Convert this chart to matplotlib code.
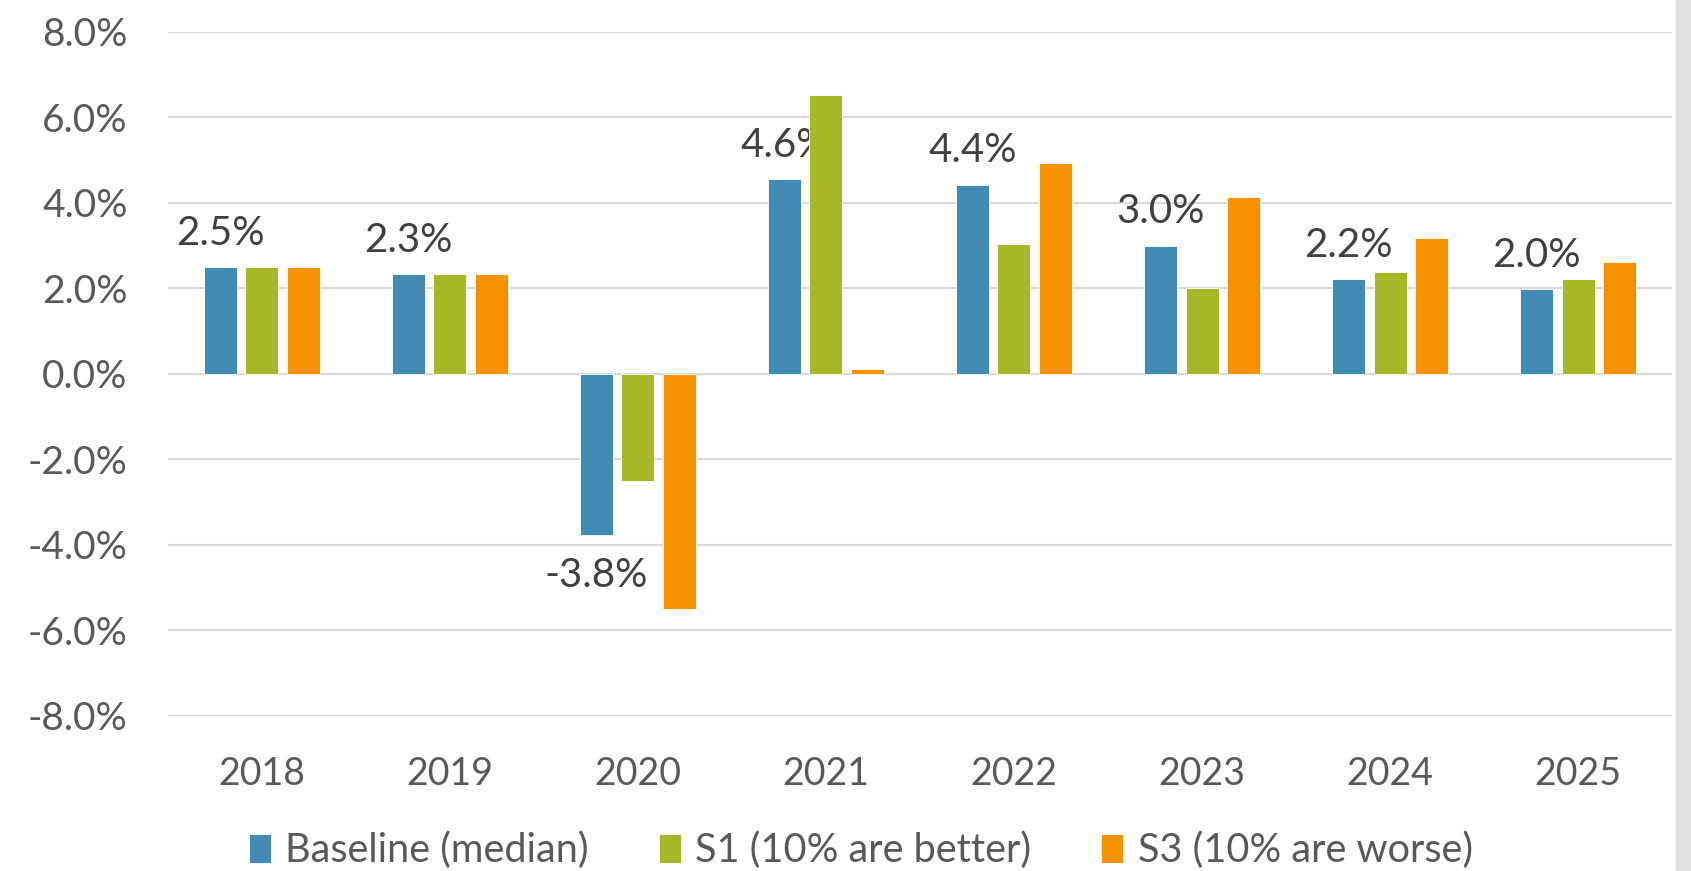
"""
Annual growth by scenario, 2018-2025 (grouped bars, baseline labelled).
"""

import numpy as np
import matplotlib
matplotlib.use("Agg")
import matplotlib.pyplot as plt
from matplotlib.patches import Rectangle

plt.rcParams["font.family"] = ["Lato", "DejaVu Sans"]

# ── Data ─────────────────────────────────────────────────────────
years    = ["2018", "2019", "2020", "2021", "2022", "2023", "2024", "2025"]
baseline = [2.50, 2.34, -3.77, 4.56, 4.43, 3.00, 2.22, 1.98]
s1       = [2.50, 2.34, -2.50, 6.53, 3.03, 2.01, 2.39, 2.22]
s3       = [2.50, 2.34, -5.50, 0.12, 4.94, 4.13, 3.18, 2.61]
series_names = ["Baseline (median)", "S1 (10% are better)", "S3 (10% are worse)"]
yticks   = [-8, -6, -4, -2, 0, 2, 4, 6, 8]

colors = ["#418AB3", "#A6B727", "#F69200"]
TICK_C = "#595959"
LABEL_C = "#404040"

fig = plt.figure(figsize=(16.91, 8.71), dpi=100)
ax = fig.add_axes([0.0993, 0.178, 0.8895, 0.7853])

x = np.arange(len(years))
width, pitch = 0.1755, 0.221
for i, (vals, c, name) in enumerate(zip([baseline, s1, s3], colors, series_names)):
    bars = ax.bar(x + (i - 1) * pitch, vals, width, color=c, label=name,
                  edgecolor="white", linewidth=0.6, zorder=3)
    if i == 0:
        for b, v in zip(bars, vals):
            cx = b.get_x() + b.get_width() / 2
            if v >= 0:
                ax.annotate(f"{v:.1f}%", (cx, v), xytext=(0, 16),
                            textcoords="offset points", ha="center",
                            va="baseline", fontsize=29, color=LABEL_C)
            else:
                ax.annotate(f"{v:.1f}%", (cx, v), xytext=(0, -16),
                            textcoords="offset points", ha="center",
                            va="top", fontsize=29, color=LABEL_C)

ax.set_xlim(-0.5, len(years) - 0.5)
ax.set_ylim(-8, 8)
ax.set_yticks(yticks)
ax.set_yticklabels([f"{t:.1f}%" for t in yticks])
ax.set_xticks(x)
ax.set_xticklabels(years)
ax.tick_params(axis="y", length=0, pad=29, labelsize=28, labelcolor=TICK_C)
ax.tick_params(axis="x", length=0, pad=29, labelsize=27, labelcolor=TICK_C)
ax.grid(axis="y", color="#D9D9D9", linewidth=1.5, zorder=0)
for s in ax.spines.values():
    s.set_visible(False)

fig.legend(loc="center", bbox_to_anchor=(0.509, 0.024), ncol=3, frameon=False,
           fontsize=28.5, handlelength=0.56, handleheight=0.75,
           handletextpad=0.36, columnspacing=1.77, labelcolor=TICK_C)

# grey strip at the right edge of the original
fig.patches.append(Rectangle((1676 / 1691, 0), 15 / 1691, 1,
                             transform=fig.transFigure, color="#E0E0E0",
                             zorder=0))

plt.savefig("out.png", dpi=100)
plt.close()
